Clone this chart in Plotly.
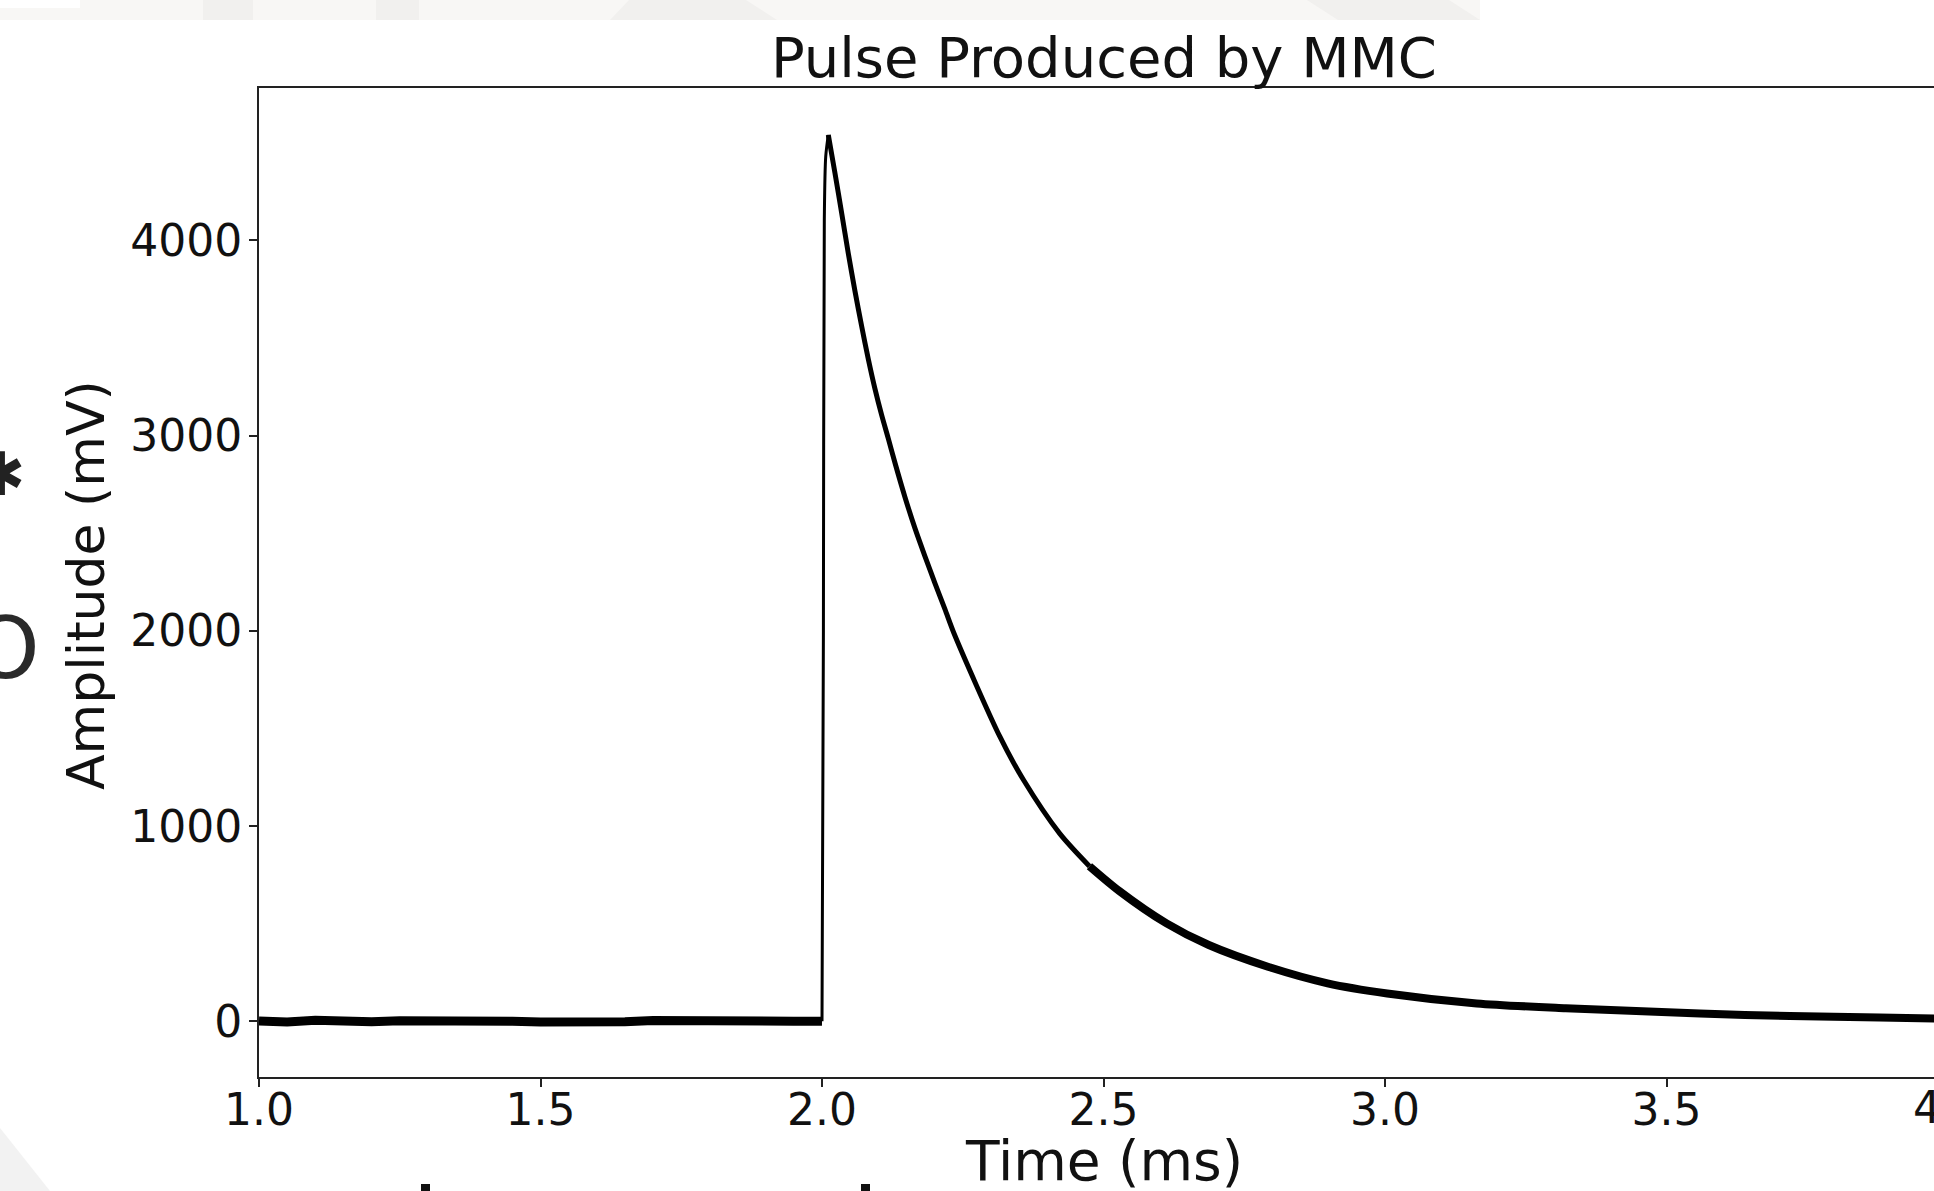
import plotly.graph_objects as go

# ---------------- data ----------------
# baseline before the pulse (time in ms, amplitude in mV)
time_baseline = [1.00, 1.05, 1.10, 1.15, 1.20, 1.25, 1.30, 1.35, 1.40, 1.45, 1.50,
                 1.55, 1.60, 1.65, 1.70, 1.75, 1.80, 1.85, 1.90, 1.95, 2.00]
amp_baseline = [2, -3, 6, 0, -2, 3, 5, 1, -1, 0, -3,
                -5, -6, -2, 4, 2, -4, -2, 0, 1, 0]

# fast rising edge
time_rise = [2.000, 2.0025, 2.0041, 2.0066, 2.0112]
amp_rise = [0, 2000, 4105, 4430, 4541]

# steep part of the decay
time_decay = [2.0112, 2.0231, 2.0350, 2.0467, 2.0586, 2.0705, 2.0823, 2.0941,
              2.1060, 2.1178, 2.1297, 2.1474, 2.1652, 2.1829, 2.2007, 2.2185,
              2.2362, 2.316, 2.358, 2.422, 2.475]
amp_decay = [4541, 4344, 4139, 3934, 3740, 3560, 3392, 3240,
             3105, 2985, 2860, 2685, 2525, 2382, 2244, 2110,
             1975, 1458, 1236, 963, 795]

# slow tail of the decay
time_tail = [2.475, 2.528, 2.612, 2.687, 2.792, 2.898, 3.004, 3.163, 3.321,
             3.480, 3.639, 3.797, 3.975, 4.000]
amp_tail = [795, 668, 502, 391, 280, 195, 143, 92, 67,
            49, 32, 24, 15, 14]

x_tick_vals = [1.0, 1.5, 2.0, 2.5, 3.0, 3.5]
x_tick_text = ["1.0", "1.5", "2.0", "2.5", "3.0", "3.5"]
x_edge_tick_text = "4.0"
y_tick_vals = [0, 1000, 2000, 3000, 4000]
y_tick_text = ["0", "1000", "2000", "3000", "4000"]

title_text = "Pulse Produced by MMC"
x_label = "Time (ms)"
y_label = "Amplitude (mV)"

# ---------------- layout geometry (pixels) ----------------
W, H = 1934, 1191
PL, PT, PB = 259, 88, 1077          # plot left / top / bottom
PW = W - PL
PH = PB - PT
PX_PER_MS = 563.0
X_RANGE = [1.0, 1.0 + PW / PX_PER_MS]
Y_RANGE = [-285, 4781]

FONT = "DejaVu Sans"
INK = "#111111"
TICK_SIZE = 44


def px_x(p):
    return (p - PL) / PW


def px_y(p):
    return (PB - p) / PH


fig = go.Figure()

segments = [
    (time_baseline, amp_baseline, 9, "linear"),
    (time_rise, amp_rise, 3, "spline"),
    (time_decay, amp_decay, 5, "spline"),
    (time_tail, amp_tail, 8, "spline"),
]
for xs, ys, w, shp in segments:
    fig.add_trace(go.Scatter(
        x=xs, y=ys, mode="lines",
        line=dict(color="black", width=w, shape=shp, smoothing=0.8),
        showlegend=False, hoverinfo="skip",
    ))

axis_common = dict(
    showgrid=False, zeroline=False, showline=True,
    linecolor="#222222", linewidth=2,
    ticks="outside", ticklen=8, tickwidth=2, tickcolor="#222222",
    tickfont=dict(family=FONT, size=TICK_SIZE, color=INK),
)

fig.update_xaxes(range=X_RANGE, tickvals=x_tick_vals, ticktext=x_tick_text,
                 mirror=True, ticklabelstandoff=-15, **axis_common)
fig.update_yaxes(range=Y_RANGE, tickvals=y_tick_vals, ticktext=y_tick_text,
                 mirror=False, ticklabelstandoff=-2, **axis_common)

annotations = [
    dict(text=title_text, x=px_x(1104), y=px_y(58), xref="paper", yref="paper",
         xanchor="center", yanchor="middle", showarrow=False,
         font=dict(family=FONT, size=56, color=INK)),
    dict(text=x_label, x=px_x(1104), y=px_y(1161), xref="paper", yref="paper",
         xanchor="center", yanchor="middle", showarrow=False,
         font=dict(family=FONT, size=55, color=INK)),
    dict(text=y_label, x=px_x(86), y=px_y(585), xref="paper", yref="paper",
         xanchor="center", yanchor="middle", showarrow=False, textangle=-90,
         font=dict(family=FONT, size=52, color=INK)),
    dict(text=x_edge_tick_text, x=px_x(PL + 3 * PX_PER_MS), y=px_y(1107),
         xref="paper", yref="paper", xanchor="center", yanchor="middle",
         showarrow=False, font=dict(family=FONT, size=TICK_SIZE, color=INK)),
    # artefacts from the surrounding slide at the left edge
    dict(text="O", x=px_x(6), y=px_y(648), xref="paper", yref="paper",
         xanchor="center", yanchor="middle", showarrow=False,
         font=dict(family=FONT, size=86, color="#2a2a2a")),
    dict(text="✱", x=px_x(0), y=px_y(474), xref="paper", yref="paper",
         xanchor="center", yanchor="middle", showarrow=False,
         font=dict(family=FONT, size=60, color="#222222")),
]

shapes = []


def rect(x0, y0, x1, y1, color):
    shapes.append(dict(type="rect", xref="paper", yref="paper",
                       x0=px_x(x0), x1=px_x(x1), y0=px_y(y1), y1=px_y(y0),
                       line=dict(width=0), fillcolor=color, layer="above"))


def poly(points, color):
    path = "M " + " L ".join(f"{px_x(a)},{px_y(b)}" for a, b in points) + " Z"
    shapes.append(dict(type="path", xref="paper", yref="paper", path=path,
                       line=dict(width=0), fillcolor=color, layer="above"))


# faint slide background strip at the top
rect(0, 0, 1480, 20, "#f8f7f5")
rect(0, 0, 80, 8, "#ffffff")
rect(203, 0, 253, 20, "#f1f0ee")
rect(376, 0, 419, 20, "#f1f0ee")
poly([(629, 0), (746, 0), (777, 20), (610, 20)], "#f1f0ee")
poly([(1307, 0), (1449, 0), (1480, 20), (1338, 20)], "#f1f0ee")
# faint shape bottom-left
poly([(0, 1128), (50, 1191), (0, 1191)], "#f2f2f2")
# cut-off glyph stubs at the bottom edge
rect(421, 1184, 430, 1191, "#111111")
rect(861, 1184, 870, 1191, "#111111")

fig.update_layout(
    width=W, height=H, autosize=False,
    margin=dict(l=PL, r=0, t=PT, b=H - PB, pad=0),
    paper_bgcolor="white", plot_bgcolor="white",
    font=dict(family=FONT, color=INK),
    annotations=annotations, shapes=shapes,
    showlegend=False,
)

fig.write_html(
    "out.html",
    config={"displayModeBar": False},
    post_script="document.body.style.margin='0px';document.body.style.overflow='hidden';",
)
